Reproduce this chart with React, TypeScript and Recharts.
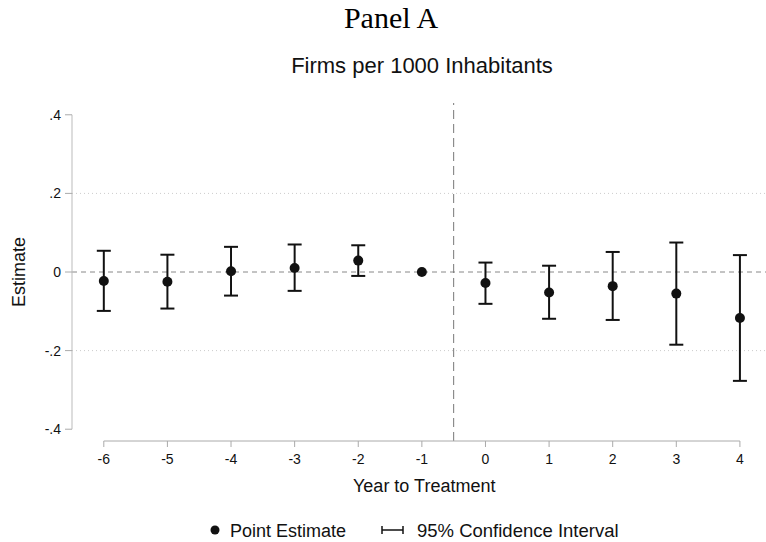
import React from 'react'
import {
  ComposedChart,
  Scatter,
  ErrorBar,
  XAxis,
  YAxis,
  ReferenceLine,
} from 'recharts'

// event-study estimates
const years = [-6, -5, -4, -3, -2, -1, 0, 1, 2, 3, 4]
const estimates = [-0.023, -0.025, 0.002, 0.01, 0.029, 0, -0.028, -0.052, -0.036, -0.055, -0.117]
const ciLow = [-0.099, -0.093, -0.06, -0.048, -0.01, 0, -0.081, -0.119, -0.122, -0.185, -0.277]
const ciHigh = [0.054, 0.044, 0.064, 0.07, 0.068, 0, 0.024, 0.016, 0.051, 0.075, 0.043]
const yTicks = [-0.4, -0.2, 0, 0.2, 0.4]
const refYear = -1

const FONT = '"Liberation Sans", Arial, Helvetica, sans-serif'
const SERIF = '"Liberation Serif", "Times New Roman", serif'

const rows = years.map((year, i) => ({
  year,
  est: estimates[i],
  err: [estimates[i] - ciLow[i], ciHigh[i] - estimates[i]],
}))
const withCI = rows.filter(r => r.year !== refYear)
const baseline = rows.filter(r => r.year === refYear)

const fmtY = (v: number) => {
  if (v === 0) return '0'
  return v.toFixed(1).replace('0.', '.')
}

const Dot = (props: any) => <circle cx={props.cx} cy={props.cy} r={5} fill="#111" />

export default function App() {
  return (
    <div style={{ position: 'absolute', left: 0, top: 0, width: 766, height: 542, background: '#fff', fontFamily: FONT }}>
      <ComposedChart width={766} height={542} margin={{ top: 103, right: 0, bottom: 71, left: 12 }} style={{ position: 'absolute', left: 0, top: 0 }}>
        <XAxis
          type="number"
          dataKey="year"
          domain={[-6.5, 4.41]}
          ticks={years}
          allowDataOverflow
          axisLine={false}
          tickLine={{ stroke: '#aaa' }}
          tickSize={6}
          tickMargin={7}
          height={30}
          tick={{ fontSize: 14, fill: '#111', fontFamily: FONT }}
        />
        <YAxis
          type="number"
          dataKey="est"
          domain={[-0.43, 0.43]}
          ticks={yTicks}
          allowDataOverflow
          tickFormatter={fmtY}
          axisLine={false}
          tickLine={{ stroke: '#aaa' }}
          tickSize={7}
          tickMargin={4}
          width={60}
          tick={{ fontSize: 14, fill: '#111', fontFamily: FONT }}
        />
        <ReferenceLine y={0.2} stroke="#ccc" strokeDasharray="1 3" />
        <ReferenceLine y={-0.2} stroke="#ccc" strokeDasharray="1 3" />
        <ReferenceLine y={0} stroke="#888" strokeDasharray="5 4" />
        <ReferenceLine x={-0.5} stroke="#777" strokeDasharray="9 5" />
        <ReferenceLine segment={[{ x: -6.5, y: -0.4 }, { x: -6.5, y: 0.4 }]} stroke="#bbb" ifOverflow="visible" />
        <ReferenceLine segment={[{ x: -6, y: -0.43 }, { x: 4, y: -0.43 }]} stroke="#aaa" ifOverflow="visible" />
        <Scatter data={withCI} dataKey="est" shape={<Dot />} isAnimationActive={false}>
          <ErrorBar dataKey="err" direction="y" width={7} stroke="#111" strokeWidth={2} isAnimationActive={false} />
        </Scatter>
        <Scatter data={baseline} dataKey="est" shape={<Dot />} isAnimationActive={false} />
      </ComposedChart>
      <svg width={766} height={542} style={{ position: 'absolute', left: 0, top: 0, pointerEvents: 'none' }}>
        <text x={391} y={28} textAnchor="middle" fontFamily={SERIF} fontSize={30} fill="#000">Panel A</text>
        <text x={422} y={73} textAnchor="middle" fontFamily={FONT} fontSize={22} fill="#111">Firms per 1000 Inhabitants</text>
        <text x={25} y={272} textAnchor="middle" fontFamily={FONT} fontSize={18} fill="#111" transform="rotate(-90 25 272)">Estimate</text>
        <text x={353} y={492} fontFamily={FONT} fontSize={18} fill="#111">Year to Treatment</text>
        <circle cx={215} cy={530} r={4.5} fill="#111" />
        <text x={230} y={536.5} fontFamily={FONT} fontSize={18} fill="#111">Point Estimate</text>
        <line x1={382} y1={530} x2={403} y2={530} stroke="#111" strokeWidth={1.5} />
        <line x1={382} y1={526} x2={382} y2={534} stroke="#111" strokeWidth={1.5} />
        <line x1={403} y1={526} x2={403} y2={534} stroke="#111" strokeWidth={1.5} />
        <text x={417} y={536.5} fontFamily={FONT} fontSize={18.5} fill="#111">95% Confidence Interval</text>
      </svg>
    </div>
  )
}
